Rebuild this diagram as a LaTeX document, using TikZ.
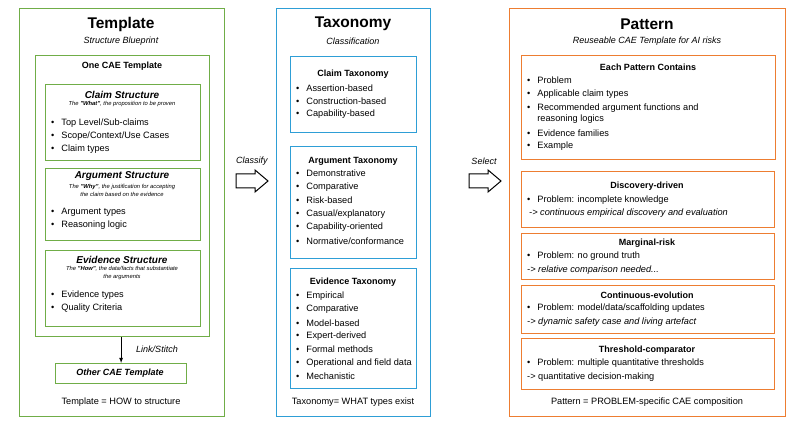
\documentclass[tikz,border=0pt]{standalone}
\usepackage{fontspec}
\setmainfont{Liberation Sans}
\definecolor{grn}{RGB}{112,173,71}
\definecolor{blu}{RGB}{46,158,214}
\definecolor{org}{RGB}{237,125,49}
\newcommand{\bl}{\textbullet\hspace{7pt}}
\begin{document}
\begin{tikzpicture}[x=1pt,y=-1pt,
 box/.style={draw=#1,line width=1.2pt,anchor=north west,inner sep=0},
 ttl/.style={font=\fontsize{15.5}{17}\selectfont\bfseries,inner sep=0},
 sub/.style={font=\fontsize{9}{10}\selectfont\itshape,inner sep=0},
 hd/.style={font=\fontsize{9}{10}\selectfont\bfseries,inner sep=0},
 hdi/.style={font=\fontsize{10}{11}\selectfont\bfseries\itshape,inner sep=0},
 tiny/.style={font=\fontsize{5.8}{8}\selectfont\itshape,inner sep=0,align=center},
 it/.style={font=\fontsize{9.2}{11}\selectfont,inner sep=0,anchor=west},
 lbl/.style={font=\fontsize{9}{10}\selectfont\itshape,inner sep=0}]
\useasboundingbox (0,0) rectangle (793,422);
% Template
\node[box=grn,minimum width=205,minimum height=408] (tpl) at (19,8) {};
\node[ttl] (tplt) at (121,24) {Template};
\node[sub] (tpls) at (121,41) {Structure Blueprint};
\node[box=grn,minimum width=174,minimum height=281] (one) at (35,55) {};
\node[hd] (onet) at (122,66) {One CAE Template};
\node[box=grn,minimum width=155,minimum height=76] (cs) at (45,84) {};
\node[hdi] (cst) at (122,95) {Claim Structure};
\node[tiny] (css) at (122,104) {The \textbf{"What"}, the proposition to be proven};
\node[it] (c1) at (51,123) {\bl Top Level/Sub-claims};
\node[it] (c2) at (51,136) {\bl Scope/Context/Use Cases};
\node[it] (c3) at (51,149) {\bl Claim types};
\node[box=grn,minimum width=155,minimum height=72] (as) at (45,168) {};
\node[hdi] (ast) at (122,176) {Argument Structure};
\node[tiny] (ass) at (122,190) {The \textbf{"Why"}, the justification for accepting\\the claim based on the evidence};
\node[it] (a1) at (51,212) {\bl Argument types};
\node[it] (a2) at (51,225) {\bl Reasoning logic};
\node[box=grn,minimum width=155,minimum height=76] (es) at (45,250) {};
\node[hdi] (est) at (122,260) {Evidence Structure};
\node[tiny] (ess) at (122,273) {The \textbf{"How"}, the data/facts that substantiate\\the arguments};
\node[it] (e1) at (51,295) {\bl Evidence types};
\node[it] (e2) at (51,308) {\bl Quality Criteria};
\node[box=grn,minimum width=131,minimum height=20] (oth) at (55,363) {};
\node[hd,font=\fontsize{9}{10}\selectfont\bfseries\itshape] (otht) at (120,373) {Other CAE Template};
\draw[-latex,line width=0.8pt] (one.south -| oth.north) -- (oth.north);
\node[lbl] (link) at (157,349) {Link/Stitch};
\node[it,anchor=center] (tplf) at (121,402) {Template = HOW to structure};
% Classify
\node[lbl] (cls) at (252,161) {Classify};
\draw[line width=1pt,line join=miter] (236,174) -- (255,174) -- (255,170) -- (268,181) -- (255,192) -- (255,188) -- (236,188) -- cycle;
% Taxonomy
\node[box=blu,minimum width=154,minimum height=408] (tax) at (276,8) {};
\node[ttl] (taxt) at (353,24) {Taxonomy};
\node[sub] (taxs) at (353,41) {Classification};
\node[box=blu,minimum width=126,minimum height=76] (ct) at (290,56) {};
\node[hd] (ctt) at (353,74) {Claim Taxonomy};
\node[it] at (296,88) {\bl Assertion-based};
\node[it] at (296,101) {\bl Construction-based};
\node[it] at (296,114) {\bl Capability-based};
\node[box=blu,minimum width=126,minimum height=112] (at) at (290,146) {};
\node[hd] (att) at (353,161) {Argument Taxonomy};
\node[it] at (296,173.5) {\bl Demonstrative};
\node[it] at (296,187) {\bl Comparative};
\node[it] at (296,200.5) {\bl Risk-based};
\node[it] at (296,214) {\bl Casual/explanatory};
\node[it] at (296,227.5) {\bl Capability-oriented};
\node[it] at (296,241) {\bl Normative/conformance};
\node[box=blu,minimum width=126,minimum height=120] (et) at (290,268) {};
\node[hd] (ett) at (353,282) {Evidence Taxonomy};
\node[it] at (296,296) {\bl Empirical};
\node[it] at (296,309.5) {\bl Comparative};
\node[it] at (296,323) {\bl Model-based};
\node[it] at (296,336) {\bl Expert-derived};
\node[it] at (296,349.5) {\bl Formal methods};
\node[it] at (296,363) {\bl Operational and field data};
\node[it] at (296,376) {\bl Mechanistic};
\node[it,anchor=center] (taxf) at (353,402) {Taxonomy= WHAT types exist};
% Select
\node[lbl] (sel) at (484,161) {Select};
\draw[line width=1pt,line join=miter] (469,174) -- (488,174) -- (488,170) -- (501,181) -- (488,192) -- (488,188) -- (469,188) -- cycle;
% Pattern
\node[box=org,minimum width=276,minimum height=408] (pat) at (509,8) {};
\node[ttl] (patt) at (647,24) {Pattern};
\node[sub] (pats) at (647,41) {Reuseable CAE Template for AI risks};
\node[box=org,minimum width=254,minimum height=104] (ep) at (521,55) {};
\node[hd] (ept) at (648,67) {Each Pattern Contains};
\node[it] at (527,80.5) {\bl Problem};
\node[it] at (527,94) {\bl Applicable claim types};
\node[it,align=left] at (527,113.5) {\bl Recommended argument functions and\\\hphantom{\bl}reasoning logics};
\node[it] at (527,133) {\bl Evidence families};
\node[it] at (527,146.5) {\bl Example};
\node[box=org,minimum width=253,minimum height=56] (dd) at (521,171) {};
\node[hd] at (647,186) {Discovery-driven};
\node[it] at (527,200) {\bl Problem: incomplete knowledge};
\node[it] at (529,213) {\textit{-> continuous empirical discovery and evaluation}};
\node[box=org,minimum width=253,minimum height=46] (mr) at (521,233) {};
\node[hd] at (647,243) {Marginal-risk};
\node[it] at (527,256) {\bl Problem: no ground truth};
\node[it] at (527,270) {\textit{-> relative comparison needed...}};
\node[box=org,minimum width=253,minimum height=48] (ce) at (521,285) {};
\node[hd] at (647,295.5) {Continuous-evolution};
\node[it] at (527,308.5) {\bl Problem: model/data/scaffolding updates};
\node[it] at (527,322) {\textit{-> dynamic safety case and living artefact}};
\node[box=org,minimum width=253,minimum height=51] (tc) at (521,338) {};
\node[hd] at (647,350.5) {Threshold-comparator};
\node[it] at (527,363.5) {\bl Problem: multiple quantitative thresholds};
\node[it] at (527,377) {-> quantitative decision-making};
\node[it,anchor=center] (patf) at (647,402) {Pattern = PROBLEM-specific CAE composition};
\end{tikzpicture}
\end{document}
